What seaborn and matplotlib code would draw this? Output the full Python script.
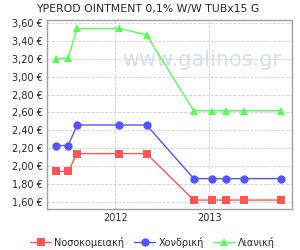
import matplotlib
matplotlib.use("Agg")
import matplotlib.pyplot as plt
import matplotlib.dates as mdates
import matplotlib.ticker as mticker
import seaborn as sns
import pandas as pd

dates = ["2011-05-15", "2011-07-01", "2011-08-05", "2012-01-15", "2012-05-01",
         "2012-11-01", "2013-01-10", "2013-03-05", "2013-05-15", "2013-10-05"]
hospital = [1.94, 1.94, 2.14, 2.14, 2.14, 1.62, 1.62, 1.62, 1.62, 1.62]
wholesale = [2.23, 2.23, 2.46, 2.46, 2.46, 1.86, 1.86, 1.86, 1.86, 1.86]
retail = [3.20, 3.21, 3.54, 3.54, 3.47, 2.62, 2.62, 2.62, 2.62, 2.62]
series_names = ["Νοσοκομειακή", "Χονδρική", "Λιανική"]
title = "YPEROD OINTMENT 0,1% W/W TUBx15 G"

df = pd.DataFrame({
    "date": pd.to_datetime(dates * 3),
    "price": hospital + wholesale + retail,
    "series": [series_names[0]] * len(dates) + [series_names[1]] * len(dates) + [series_names[2]] * len(dates),
})

sns.set_style("white")
plt.rcParams['font.family'] = ['DejaVu Sans']

fig = plt.figure(figsize=(3, 2.5), dpi=100)
ax = fig.add_axes([0.157, 0.164, 0.816, 0.756])

palette = {series_names[0]: "#FF5555", series_names[1]: "#5555FF", series_names[2]: "#55FF55"}
markers = {series_names[0]: "s", series_names[1]: "o", series_names[2]: "^"}
sns.lineplot(data=df, x="date", y="price", hue="series", style="series",
             palette=palette, markers=markers, dashes=False, linewidth=1,
             markersize=6, markeredgewidth=0, ax=ax, legend=True)

ax.text(0.63, 0.79, "www.galinos.gr", transform=ax.transAxes, fontsize=15,
        color="#CCD7E8", alpha=0.8, ha="center", va="center", zorder=0)

ax.set_ylim(1.52, 3.635)
ax.set_xlim(pd.Timestamp("2011-04-10"), pd.Timestamp("2013-11-18"))
ax.yaxis.set_major_locator(mticker.MultipleLocator(0.2))
ax.yaxis.set_major_formatter(mticker.FuncFormatter(lambda v, p: f"{v:.2f} €".replace(".", ",")))
ax.xaxis.set_major_locator(mdates.YearLocator())
ax.xaxis.set_major_formatter(mdates.DateFormatter("%Y"))
ax.tick_params(labelsize=7, length=0, pad=3)
ax.grid(True, color="#D0D0D0", linestyle="--", linewidth=0.6)
for s in ax.spines.values():
    s.set_color("#A0A0A0")
    s.set_linewidth(1)
ax.set_xlabel("")
ax.set_ylabel("")
fig.suptitle(title, x=0.493, y=0.985, va="top", fontsize=7.8)

h, l = ax.get_legend_handles_labels()
ax.legend(h, l, loc="lower center", bbox_to_anchor=(0.43, -0.225), ncol=3, frameon=False,
          fontsize=7, handlelength=2.2, handletextpad=0.3, columnspacing=1.0, borderaxespad=0)

fig.savefig("out.png", dpi=100)
